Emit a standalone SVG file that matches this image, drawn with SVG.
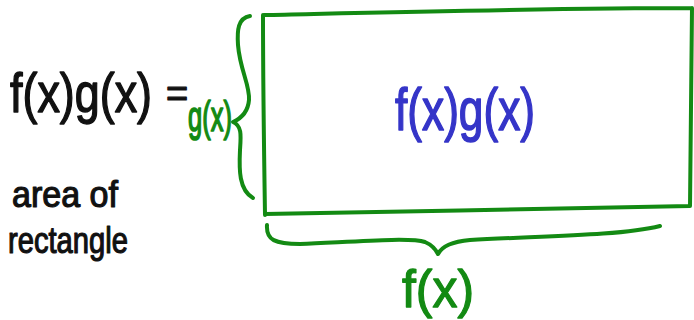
<svg xmlns="http://www.w3.org/2000/svg" width="694" height="320" viewBox="0 0 694 320">
<style>
.g{fill:none;stroke:#138a13;stroke-width:4;stroke-linecap:round;stroke-linejoin:round}
.t{font-family:"Liberation Sans",Arial,sans-serif;stroke-width:1.2;stroke-linejoin:round}
.k{fill:#111;stroke:#111}
.gt{fill:#138a13;stroke:#138a13}
.b{fill:#3535c8;stroke:#3535c8}
</style>
<rect width="694" height="320" fill="#fff"/>
<g id="rectangle">
<path class="g" d="M263,15 C263,80 264,150 265,215 M264,15 C400,12 560,8 692,8 M692,8 C691,80 690,150 690,206 M265,214 C400,212 560,208 690,206"/>
<text class="t b" transform="translate(465,130) scale(1,1.3)" font-size="46" text-anchor="middle" textLength="140" lengthAdjust="spacingAndGlyphs">f(x)g(x)</text>
</g>
<g id="connectors">
<path class="g" d="M250,16 C238,18 237,30 238,45 C240,70 250,85 249,100 C248,112 242,118 233,122 C242,126 241,135 240,150 C239,170 239,190 253,198"/>
<path class="g" d="M267,225 C266,240 275,244 300,244 C350,242 410,237 425,242 C432,245 436,250 438,254 C441,248 448,242 470,240 C540,236 620,236 660,226"/>
</g>
<g id="label-left">
<text class="t k" transform="translate(10,112) scale(1,1.2)" font-size="46" textLength="142" lengthAdjust="spacingAndGlyphs">f(x)g(x)</text>
<text class="t k" x="166" y="107" font-size="38">=</text>
</g>
<g id="label-gx">
<text class="t gt" transform="translate(188,131) scale(1,1.4)" font-size="30" textLength="44" lengthAdjust="spacingAndGlyphs">g(x)</text>
</g>
<g id="label-area">
<text class="t k" x="12" y="207" font-size="36" textLength="106" lengthAdjust="spacingAndGlyphs">area of</text>
<text class="t k" x="8" y="253" font-size="36" textLength="120" lengthAdjust="spacingAndGlyphs">rectangle</text>
</g>
<g id="label-fx">
<text class="t gt" transform="translate(402,307) scale(1,1.08)" font-size="48" textLength="72" lengthAdjust="spacingAndGlyphs">f(x)</text>
</g>
</svg>
